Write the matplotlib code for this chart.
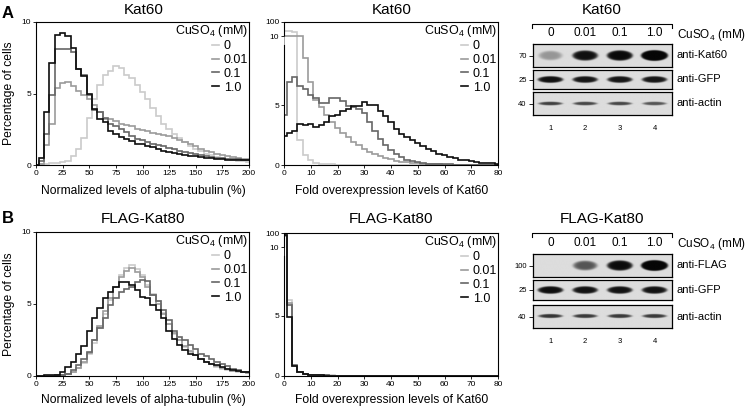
import numpy as np
import matplotlib
matplotlib.use('Agg')
import matplotlib.pyplot as plt
from matplotlib.lines import Line2D
from matplotlib.colors import LinearSegmentedColormap

W, H = 746, 408

plt.rcParams.update({
    'font.family': ['Liberation Sans', 'DejaVu Sans'],
    'mathtext.fontset': 'custom',
    'mathtext.rm': 'Liberation Sans',
    'mathtext.it': 'Liberation Sans:italic',
    'axes.linewidth': 0.8,
})

# ── Data ──────────────────────────────────────────────────────────────────────
doses = ['0', '0.01', '0.1', '1.0']
cuso4_title = r'CuSO$_{\mathrm{4}}$ (mM)'

# alpha-tubulin histograms: bins of 5 %, centred on 0, 5, ..., 200
tub_centers = np.arange(0, 205, 5)

tub_kat60 = [
    [0, 0.05, 0.1, 0.12, 0.15, 0.2, 0.3, 0.6, 1.1, 1.9, 3.3, 4.6, 5.6, 6.3, 6.6,
     6.9, 6.8, 6.3, 6.1, 5.6, 5.1, 4.6, 4.0, 3.4, 2.9, 2.5, 2.2, 1.9, 1.6, 1.35,
     1.15, 0.95, 0.8, 0.67, 0.56, 0.48, 0.4, 0.34, 0.29, 0.25, 0.21],
    [0, 0.1, 1.4, 2.9, 5.4, 5.7, 5.8, 5.5, 5.2, 4.9, 4.65, 4.2, 3.7, 3.25, 3.25,
     3.1, 2.9, 2.8, 2.7, 2.55, 2.45, 2.35, 2.25, 2.2, 2.1, 2.0, 1.9, 1.75, 1.6,
     1.45, 1.3, 1.15, 1.0, 0.9, 0.8, 0.7, 0.62, 0.55, 0.5, 0.45, 0.42],
    [0, 0.3, 2.2, 4.9, 8.1, 8.1, 8.1, 7.9, 6.7, 6.3, 4.9, 3.85, 3.7, 3.3, 2.85,
     2.7, 2.55, 2.3, 2.0, 1.8, 1.75, 1.6, 1.5, 1.4, 1.3, 1.2, 1.1, 1.0, 0.93,
     0.85, 0.78, 0.7, 0.63, 0.57, 0.52, 0.48, 0.45, 0.42, 0.4, 0.38, 0.37],
    [0, 0.5, 3.7, 7.1, 9.1, 9.2, 9.0, 8.2, 6.7, 6.2, 5.0, 3.9, 3.2, 3.0, 2.4,
     2.2, 1.95, 1.8, 1.65, 1.5, 1.45, 1.35, 1.25, 1.1, 1.0, 0.9, 0.85, 0.78,
     0.7, 0.65, 0.6, 0.55, 0.5, 0.47, 0.43, 0.4, 0.38, 0.36, 0.34, 0.33, 0.33],
]

tub_kat80 = [
    [0, 0, 0.02, 0.03, 0.05, 0.08, 0.15, 0.3, 0.55, 0.9, 1.5, 2.3, 3.3, 4.3,
     5.3, 6.2, 7.0, 7.5, 7.7, 7.4, 7.0, 6.3, 5.7, 5.2, 4.4, 3.6, 2.9, 2.5, 2.0,
     1.7, 1.45, 1.2, 1.0, 0.8, 0.65, 0.52, 0.42, 0.35, 0.3, 0.25, 0.2],
    [0, 0, 0.02, 0.03, 0.05, 0.08, 0.15, 0.3, 0.55, 1.0, 1.6, 2.5, 3.5, 4.5,
     5.4, 6.2, 6.9, 7.3, 7.5, 7.2, 6.9, 6.2, 5.6, 5.0, 4.3, 3.6, 3.0, 2.5, 2.1,
     1.75, 1.45, 1.2, 1.0, 0.85, 0.7, 0.57, 0.46, 0.38, 0.32, 0.27, 0.22],
    [0, 0, 0.02, 0.03, 0.05, 0.07, 0.15, 0.45, 0.75, 1.2, 1.7, 2.5, 3.3, 4.0,
     4.9, 5.4, 5.85, 6.05, 6.2, 6.55, 6.65, 6.6, 5.6, 5.2, 4.6, 3.9, 3.1, 2.7,
     2.5, 2.15, 1.9, 1.55, 1.4, 1.15, 1.0, 0.85, 0.7, 0.5, 0.4, 0.3, 0.25],
    [0, 0, 0.05, 0.05, 0.1, 0.28, 0.63, 1.0, 1.5, 2.1, 3.1, 4.05, 4.7, 5.4,
     5.85, 6.2, 6.55, 6.5, 6.3, 6.0, 5.5, 5.4, 4.9, 4.6, 4.0, 3.1, 2.6, 2.15,
     1.8, 1.55, 1.45, 1.15, 1.0, 0.85, 0.75, 0.65, 0.5, 0.4, 0.33, 0.28, 0.25],
]

# fold overexpression histograms: first bin 0-1, then bins of 2 centred on 2, 4, ..., 80
fold_edges = np.concatenate([[0], np.arange(1, 81, 2), [80]])

fold_kat60 = [
    [42, 40, 36, 2.1, 0.85, 0.4, 0.2, 0.12, 0.08, 0.05, 0.04, 0.03, 0.03, 0.02,
     0.02, 0.02, 0.01, 0.01, 0.01, 0.01, 0.01, 0.01, 0.01, 0.01, 0.01, 0.01,
     0.01, 0.01, 0.01, 0.01, 0.01, 0.01, 0.01, 0.01, 0.01, 0.01, 0.01, 0.01,
     0.01, 0.01, 0.01],
    [12, 12.5, 12, 11.5, 8.9, 6.9, 5.4, 4.8, 4.2, 3.6, 3.1, 2.7, 2.3, 1.95,
     1.65, 1.35, 1.1, 0.9, 0.72, 0.58, 0.46, 0.36, 0.28, 0.22, 0.17, 0.13, 0.1,
     0.08, 0.06, 0.05, 0.04, 0.03, 0.03, 0.02, 0.02, 0.02, 0.01, 0.01, 0.01,
     0.01, 0.01],
    [4.15, 6.95, 7.35, 6.6, 6.35, 5.85, 5.55, 5.15, 5.2, 5.55, 5.55, 5.3, 4.95,
     4.8, 4.7, 4.3, 3.6, 2.8, 2.2, 1.7, 1.25, 0.9, 0.65, 0.45, 0.32, 0.22, 0.16,
     0.12, 0.1, 0.08, 0.06, 0.05, 0.04, 0.03, 0.03, 0.02, 0.02, 0.01, 0.01,
     0.01, 0.01],
    [2.45, 2.65, 2.8, 3.45, 3.3, 3.45, 3.2, 3.35, 3.6, 4.1, 4.2, 4.5, 4.65,
     4.95, 4.9, 5.25, 5.0, 5.0, 4.5, 4.05, 3.6, 3.0, 2.6, 2.3, 2.05, 1.8, 1.6,
     1.35, 1.15, 0.95, 0.8, 0.65, 0.55, 0.45, 0.38, 0.3, 0.25, 0.2, 0.16, 0.13,
     0.1],
]

fold_kat80 = [
    [82, 6.3, 0.85, 0.3, 0.2, 0.12, 0.08, 0.06, 0.05, 0.05, 0.04, 0.04, 0.04,
     0.03, 0.03, 0.03, 0.02, 0, 0, 0, 0, 0, 0, 0, 0, 0, 0, 0, 0, 0, 0, 0, 0, 0,
     0, 0, 0, 0, 0, 0, 0],
    [83, 6.1, 0.85, 0.3, 0.2, 0.12, 0.08, 0.06, 0.05, 0.04, 0.04, 0.04, 0.03,
     0.03, 0.03, 0.03, 0.02, 0, 0, 0, 0, 0, 0, 0, 0, 0, 0, 0, 0, 0, 0, 0, 0, 0,
     0, 0, 0, 0, 0, 0, 0],
    [84, 5.9, 0.9, 0.32, 0.2, 0.12, 0.08, 0.06, 0.05, 0.04, 0.04, 0.03, 0.03,
     0.03, 0.02, 0.02, 0.02, 0, 0, 0, 0, 0, 0, 0, 0, 0, 0, 0, 0, 0, 0, 0, 0, 0,
     0, 0, 0, 0, 0, 0, 0],
    [86, 4.9, 0.8, 0.3, 0.2, 0.1, 0.07, 0.05, 0.04, 0.03, 0.03, 0.03, 0.02,
     0.02, 0.02, 0.02, 0.01, 0, 0, 0, 0, 0, 0, 0, 0, 0, 0, 0, 0, 0, 0, 0, 0, 0,
     0, 0, 0, 0, 0, 0, 0],
]

# western blots: relative band signal per lane (lanes 1-4)
blot_kat60 = {
    'anti-Kat60': [0.4, 3.0, 4.0, 9.0],
    'anti-GFP': [3.0, 2.6, 2.6, 2.6],
    'anti-actin': [1.3, 1.2, 1.2, 1.0],
}
blot_kat80 = {
    'anti-FLAG': [0.0, 1.0, 3.5, 9.0],
    'anti-GFP': [3.2, 2.8, 2.8, 2.8],
    'anti-actin': [1.5, 1.4, 1.4, 1.4],
}
markers_kat60 = ['70', '25', '40']
markers_kat80 = ['100', '25', '40']
lane_numbers = ['1', '2', '3', '4']

# ── Style ─────────────────────────────────────────────────────────────────────
DOSE_COLORS = ['#cbcbcb', '#9b9b9b', '#666666', '#0d0d0d']
LW = 1.2
blot_cmap = LinearSegmentedColormap.from_list('blot', ['#dddddd', '#060606'])

fig = plt.figure(figsize=(W / 100, H / 100), dpi=100)


def px_axes(left, top, right, bottom):
    return fig.add_axes([left / W, 1 - bottom / H,
                         (right - left) / W, (bottom - top) / H])


def fig_text(x, y, s, **kw):
    return fig.text(x / W, 1 - y / H, s, **kw)


def style_axes(ax):
    ax.tick_params(direction='out', length=2.2, width=0.6, labelsize=6, pad=1.2)
    for sp in ax.spines.values():
        sp.set_linewidth(0.8)


def add_legend(ax, top_px, right_px):
    handles = [Line2D([], [], color=c, lw=LW) for c in DOSE_COLORS]
    ax.legend(handles, doses, loc='upper right',
              bbox_to_anchor=(right_px / W, 1 - (top_px + 18) / H),
              bbox_transform=fig.transFigure,
              frameon=False, fontsize=9, handlelength=0.6,
              handletextpad=0.35, labelspacing=0.15, borderaxespad=0,
              borderpad=0)
    fig_text(right_px, top_px + 9, cuso4_title, ha='right', va='center',
             fontsize=9)


def broken_scale(lower_px, gap_px, upper_px, g=0.01):
    def fwd(v):
        v = np.asarray(v, dtype=float)
        lo = v * lower_px / 10
        mid = lower_px + (v - 10) / g * gap_px
        hi = lower_px + gap_px + (v - 10 - g) / (90 - g) * upper_px
        return np.where(v <= 10, lo, np.where(v <= 10 + g, mid, hi))

    def inv(p):
        p = np.asarray(p, dtype=float)
        lo = p * 10 / lower_px
        mid = 10 + (p - lower_px) / gap_px * g
        hi = 10 + g + (p - lower_px - gap_px) / upper_px * (90 - g)
        return np.where(p <= lower_px, lo,
                        np.where(p <= lower_px + gap_px, mid, hi))
    return fwd, inv


def tubulin_panel(box, series):
    ax = px_axes(*box)
    edges = np.append(tub_centers - 2.5, tub_centers[-1] + 2.5)
    for vals, col in zip(series, DOSE_COLORS):
        ax.stairs(vals, edges, baseline=0, color=col, lw=LW)
    ax.set_xlim(0, 200)
    ax.set_ylim(0, 10)
    ax.set_xticks(np.arange(0, 201, 25))
    ax.set_yticks([0, 5, 10])
    style_axes(ax)
    add_legend(ax, box[1], box[2] - 1)
    return ax


def fold_panel(box, series):
    ax = px_axes(*box)
    ax.set_yscale('function', functions=broken_scale(120, 9, 14))
    for vals, col in zip(series, DOSE_COLORS):
        ax.stairs(vals, fold_edges, baseline=0, color=col, lw=LW)
    ax.set_xlim(0, 80)
    ax.set_ylim(0, 100)
    ax.set_xticks(np.arange(0, 81, 10))
    ax.set_yticks([0, 5, 10.01, 100], ['0', '5', '10', '100'])
    ax.minorticks_off()
    style_axes(ax)
    ax.spines['left'].set_bounds(0, 10)
    ax.plot([0, 0], [10.01, 100], transform=ax.get_yaxis_transform(),
            color='k', lw=0.8, clip_on=False, solid_capstyle='butt')
    add_legend(ax, box[1], box[2] - 1)
    return ax


def band_image(amounts, wy, wx=0.33, nx=420, ny=90):
    x = np.linspace(0.5, 4.5, nx)
    y = np.linspace(0, 1, ny)
    X, Y = np.meshgrid(x, y)
    signal = np.zeros_like(X)
    for lane, a in enumerate(amounts, start=1):
        r2 = ((X - lane) / wx) ** 2 + ((Y - 0.5) / wy) ** 2
        signal += a * np.exp(-r2 ** 3)
    return 1 - np.exp(-signal)


def blot_panel(rows, blot, markers, band_wy, header_y):
    names = list(blot)
    axes = []
    for i, ((top, bottom), name) in enumerate(zip(rows, names)):
        ax = px_axes(533, top, 672, bottom)
        ax.imshow(band_image(blot[name], band_wy[i]), extent=(0.5, 4.5, 0, 1),
                  origin='lower', aspect='auto', cmap=blot_cmap, vmin=0, vmax=1,
                  interpolation='bilinear')
        ax.set_xlim(0.5, 4.5)
        ax.set_ylim(0, 1)
        ax.set_yticks([0.5], [markers[i]])
        ax.tick_params(axis='y', length=3, width=0.6, pad=1.5, labelsize=5.5)
        ax.set_xticks([])
        for sp in ax.spines.values():
            sp.set_linewidth(0.9)
        ax.text(1.035, 0.5, name, transform=ax.transAxes, va='center',
                ha='left', fontsize=8)
        axes.append(ax)
    top_ax = axes[0]
    top_ax.xaxis.set_ticks_position('top')
    top_ax.set_xticks([1, 2, 3, 4], doses)
    top_ax.tick_params(axis='x', length=0, pad=3.5, labelsize=8.5)
    bot_ax = axes[-1]
    bot_ax.set_xticks([1, 2, 3, 4], lane_numbers)
    bot_ax.tick_params(axis='x', length=0, pad=7, labelsize=5.5)
    # bracket and CuSO4 label
    by = header_y - 11
    fig.add_artist(Line2D([532 / W, 532 / W, 672 / W, 672 / W],
                          [1 - (by + 3.5) / H, 1 - by / H, 1 - by / H,
                           1 - (by + 3.5) / H], color='k', lw=0.8))
    fig_text(677, header_y, cuso4_title, va='center', ha='left', fontsize=8.5)


# ── Panel A ───────────────────────────────────────────────────────────────────
tubulin_panel((36, 22, 249, 165), tub_kat60)
fold_panel((284, 22, 498, 165), fold_kat60)
blot_panel([(44, 67), (70, 89), (92, 115)], blot_kat60, markers_kat60,
           [0.2, 0.16, 0.075], header_y=35)

# ── Panel B ───────────────────────────────────────────────────────────────────
tubulin_panel((36, 232, 249, 376), tub_kat80)
fold_panel((284, 233, 498, 376), fold_kat80)
blot_panel([(254, 277), (280, 300), (305, 328)], blot_kat80, markers_kat80,
           [0.2, 0.17, 0.08], header_y=244)

# ── Titles and labels ─────────────────────────────────────────────────────────
fig_text(2, 18, 'A', fontsize=12, fontweight='bold', va='baseline')
fig_text(2, 223, 'B', fontsize=12, fontweight='bold', va='baseline')

for x in (143.5, 391.5, 602):
    fig_text(x, 14.5, 'Kat60', ha='center', va='baseline', fontsize=11)
    fig_text(x, 223, 'FLAG-Kat80', ha='center', va='baseline', fontsize=11)

for yb in (194, 403):
    fig_text(143, yb, 'Normalized levels of alpha-tubulin (%)', ha='center',
             va='baseline', fontsize=8.7)
    fig_text(391.5, yb, 'Fold overexpression levels of Kat60', ha='center',
             va='baseline', fontsize=8.7)

fig_text(9, 93.5, 'Percentage of cells', rotation=90, ha='center', va='center',
         fontsize=8.7)
fig_text(9, 304, 'Percentage of cells', rotation=90, ha='center', va='center',
         fontsize=8.7)

fig.savefig('out.png', dpi=100)
